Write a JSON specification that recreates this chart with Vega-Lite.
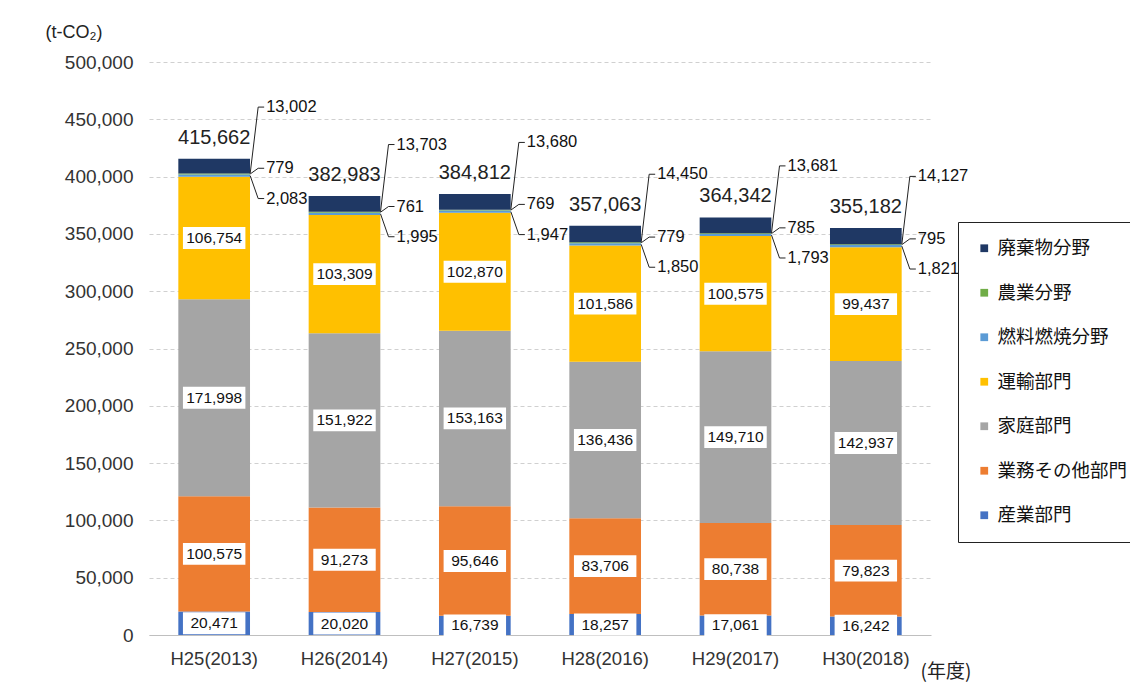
{
  "$schema": "https://vega.github.io/schema/vega-lite/v6.json",
  "width": 782,
  "height": 573,
  "autosize": {"type": "none"},
  "padding": {"left": 149, "top": 62, "right": 199, "bottom": 63},
  "background": "white",
  "config": {"view": {"stroke": null}, "font": "Liberation Sans"},
  "datasets": {
    "emissions": [
      {"year": "H25(2013)", "category": "産業部門", "value": 20471},
      {"year": "H25(2013)", "category": "業務その他部門", "value": 100575},
      {"year": "H25(2013)", "category": "家庭部門", "value": 171998},
      {"year": "H25(2013)", "category": "運輸部門", "value": 106754},
      {"year": "H25(2013)", "category": "燃料燃焼分野", "value": 2083},
      {"year": "H25(2013)", "category": "農業分野", "value": 779},
      {"year": "H25(2013)", "category": "廃棄物分野", "value": 13002},
      {"year": "H26(2014)", "category": "産業部門", "value": 20020},
      {"year": "H26(2014)", "category": "業務その他部門", "value": 91273},
      {"year": "H26(2014)", "category": "家庭部門", "value": 151922},
      {"year": "H26(2014)", "category": "運輸部門", "value": 103309},
      {"year": "H26(2014)", "category": "燃料燃焼分野", "value": 1995},
      {"year": "H26(2014)", "category": "農業分野", "value": 761},
      {"year": "H26(2014)", "category": "廃棄物分野", "value": 13703},
      {"year": "H27(2015)", "category": "産業部門", "value": 16739},
      {"year": "H27(2015)", "category": "業務その他部門", "value": 95646},
      {"year": "H27(2015)", "category": "家庭部門", "value": 153163},
      {"year": "H27(2015)", "category": "運輸部門", "value": 102870},
      {"year": "H27(2015)", "category": "燃料燃焼分野", "value": 1947},
      {"year": "H27(2015)", "category": "農業分野", "value": 769},
      {"year": "H27(2015)", "category": "廃棄物分野", "value": 13680},
      {"year": "H28(2016)", "category": "産業部門", "value": 18257},
      {"year": "H28(2016)", "category": "業務その他部門", "value": 83706},
      {"year": "H28(2016)", "category": "家庭部門", "value": 136436},
      {"year": "H28(2016)", "category": "運輸部門", "value": 101586},
      {"year": "H28(2016)", "category": "燃料燃焼分野", "value": 1850},
      {"year": "H28(2016)", "category": "農業分野", "value": 779},
      {"year": "H28(2016)", "category": "廃棄物分野", "value": 14450},
      {"year": "H29(2017)", "category": "産業部門", "value": 17061},
      {"year": "H29(2017)", "category": "業務その他部門", "value": 80738},
      {"year": "H29(2017)", "category": "家庭部門", "value": 149710},
      {"year": "H29(2017)", "category": "運輸部門", "value": 100575},
      {"year": "H29(2017)", "category": "燃料燃焼分野", "value": 1793},
      {"year": "H29(2017)", "category": "農業分野", "value": 785},
      {"year": "H29(2017)", "category": "廃棄物分野", "value": 13681},
      {"year": "H30(2018)", "category": "産業部門", "value": 16242},
      {"year": "H30(2018)", "category": "業務その他部門", "value": 79823},
      {"year": "H30(2018)", "category": "家庭部門", "value": 142937},
      {"year": "H30(2018)", "category": "運輸部門", "value": 99437},
      {"year": "H30(2018)", "category": "燃料燃焼分野", "value": 1821},
      {"year": "H30(2018)", "category": "農業分野", "value": 795},
      {"year": "H30(2018)", "category": "廃棄物分野", "value": 14127}
    ],
    "totals": [
      {"year": "H25(2013)", "total": 415662},
      {"year": "H26(2014)", "total": 382983},
      {"year": "H27(2015)", "total": 384812},
      {"year": "H28(2016)", "total": 357063},
      {"year": "H29(2017)", "total": 364342},
      {"year": "H30(2018)", "total": 355182}
    ]
  },
  "encoding": {
    "x": {
      "field": "year",
      "type": "nominal",
      "sort": null,
      "scale": {"paddingInner": 0.45, "paddingOuter": 0.225},
      "axis": {
        "title": "(年度)",
        "titleFont": "Noto Sans CJK JP",
        "titleFontSize": 19,
        "titleFontWeight": "normal",
        "titleColor": "#222",
        "titleAlign": "left",
        "titleBaseline": "alphabetic",
        "titleX": 771,
        "titleY": 42,
        "labelAngle": 0,
        "labelFontSize": 18.5,
        "labelColor": "#333",
        "labelPadding": 14,
        "ticks": false,
        "domainColor": "#bfbfbf",
        "domainWidth": 1.2
      }
    }
  },
  "layer": [
    {
      "data": {"name": "emissions"},
      "transform": [
        {"calculate": "indexof(['産業部門','業務その他部門','家庭部門','運輸部門','燃料燃焼分野','農業分野','廃棄物分野'], datum.category)", "as": "ord"},
        {"stack": "value", "groupby": ["year"], "sort": [{"field": "ord", "order": "ascending"}], "as": ["y0", "y1"]},
        {"calculate": "(datum.y0 + datum.y1) / 2", "as": "ymid"},
        {"calculate": "datum.ord == 6 ? datum.y1 + 45000 : (datum.ord == 5 ? datum.ymid + 5000 : datum.ymid - 20000)", "as": "labelY"},
        {"calculate": "datum.ord == 6 ? datum.y0 : datum.ymid", "as": "anchorY"}
      ],
      "layer": [
        {
          "mark": {"type": "bar"},
          "encoding": {
            "y": {
              "field": "y0",
              "type": "quantitative",
              "scale": {"domain": [0, 500000]},
              "axis": {
                "values": [0, 50000, 100000, 150000, 200000, 250000, 300000, 350000, 400000, 450000, 500000],
                "labelExpr": "format(datum.value, ',')",
                "domain": false,
                "ticks": false,
                "labelFontSize": 19,
                "labelColor": "#333",
                "labelPadding": 16,
                "gridColor": "#d0d0d0",
                "gridDash": [4, 3],
                "title": "(t-CO₂)",
                "titleAngle": 0,
                "titleFontSize": 18,
                "titleFontWeight": "normal",
                "titleColor": "#222",
                "titleAlign": "left",
                "titleBaseline": "middle",
                "titleX": -104,
                "titleY": -30
              }
            },
            "y2": {"field": "y1"},
            "color": {
              "field": "category",
              "type": "nominal",
              "scale": {
                "domain": ["廃棄物分野", "農業分野", "燃料燃焼分野", "運輸部門", "家庭部門", "業務その他部門", "産業部門"],
                "range": ["#1F3864", "#70AD47", "#5B9BD5", "#FFC000", "#A5A5A5", "#ED7D31", "#4472C4"]
              },
              "legend": {
                "orient": "none",
                "legendX": 809,
                "legendY": 160,
                "title": null,
                "labelFont": "Noto Sans CJK JP",
                "labelFontSize": 18.5,
                "labelColor": "#111",
                "labelLimit": 400,
                "labelOffset": 4,
                "symbolType": "square",
                "symbolSize": 60,
                "symbolStrokeWidth": 0,
                "rowPadding": 25.5,
                "padding": 17,
                "strokeColor": "#222",
                "fillColor": "white"
              }
            }
          }
        },
        {
          "transform": [{"filter": "datum.ord <= 3"}],
          "mark": {"type": "point", "shape": "M-1,-0.35L1,-0.35L1,0.35L-1,0.35Z", "size": 3900, "filled": true, "fill": "white", "opacity": 1, "strokeWidth": 0},
          "encoding": {
            "y": {"field": "ymid", "type": "quantitative"}
          }
        },
        {
          "transform": [{"filter": "datum.ord <= 3"}],
          "mark": {"type": "text", "fontSize": 15.5, "color": "#111", "baseline": "middle"},
          "encoding": {
            "y": {"field": "ymid", "type": "quantitative"},
            "text": {"field": "value", "type": "quantitative", "format": ","}
          }
        },
        {
          "transform": [{"filter": "datum.ord >= 4"}],
          "mark": {"type": "rule", "color": "#222", "strokeWidth": 1, "xOffset": 36, "x2Offset": 44},
          "encoding": {
            "x2": {"field": "year"},
            "y": {"field": "anchorY", "type": "quantitative"},
            "y2": {"field": "labelY"}
          }
        },
        {
          "transform": [{"filter": "datum.ord >= 4"}],
          "mark": {"type": "rule", "color": "#222", "strokeWidth": 1, "xOffset": 44, "x2Offset": 50},
          "encoding": {
            "x2": {"field": "year"},
            "y": {"field": "labelY", "type": "quantitative"},
            "y2": {"field": "labelY"}
          }
        },
        {
          "transform": [{"filter": "datum.ord >= 4"}],
          "mark": {"type": "text", "fontSize": 16.5, "color": "#111", "align": "left", "baseline": "middle", "xOffset": 52},
          "encoding": {
            "y": {"field": "labelY", "type": "quantitative"},
            "text": {"field": "value", "type": "quantitative", "format": ","}
          }
        }
      ]
    },
    {
      "data": {"name": "totals"},
      "mark": {"type": "text", "fontSize": 20, "color": "#222", "baseline": "alphabetic", "dy": -15},
      "encoding": {
        "y": {"field": "total", "type": "quantitative"},
        "text": {"field": "total", "type": "quantitative", "format": ","}
      }
    }
  ]
}
